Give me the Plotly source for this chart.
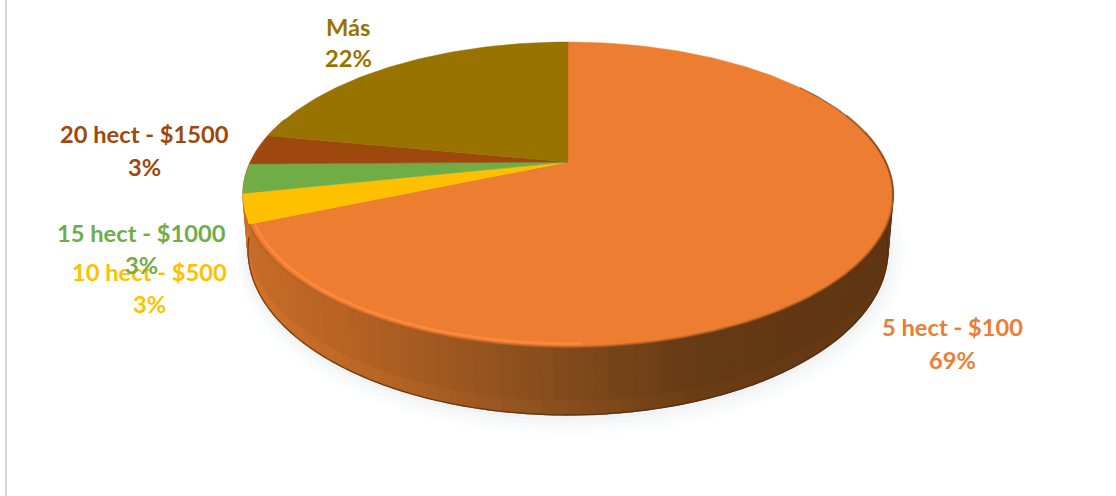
import numpy as np
import plotly.graph_objects as go

categories = ["5 hect - $100", "10 hect - $500", "15 hect - $1000", "20 hect - $1500", "Más"]
values = [68.6, 3.1, 3.1, 3.2, 22]
colors = ["#ED7D31", "#FFC000", "#70AD47", "#9E480E", "#997300"]
label_centres = [952, 149, 141, 144, 348]
label_rows = [(327, 360), (272, 304), (233, 265), (134, 167), (27, 58)]

W, H = 1116, 496
K = 0.2131


def project(theta, r=1.0, cx=568.0, cy=162.0, a=145.6, b=317.5):
    u = r * np.sin(theta)
    v = r * np.cos(theta)
    d = 1 + K * v
    return cx + b * u / d, cy - a * v / d


def lower(theta, r=1.0):
    return project(theta, r, cy=214.8, a=157.5, b=312.6)


def css(c):
    return "rgb(%d,%d,%d)" % tuple(int(round(x)) for x in c)


def poly(x, y, color, width=1.0):
    return go.Scatter(x=list(x), y=list(y), mode="lines", fill="toself", fillcolor=color,
                      line=dict(color=color, width=width), hoverinfo="skip", showlegend=False)


def stroke(x, y, color, width):
    return go.Scatter(x=list(x), y=list(y), mode="lines", line=dict(color=color, width=width, shape="spline"),
                      hoverinfo="skip", showlegend=False)


fig = go.Figure()
fractions = np.cumsum([0] + values) / sum(values)
angles = fractions * 2 * np.pi

# soft shadow under the pie
ring = np.linspace(0, 2 * np.pi, 181)
for grow, alpha in [(16, 0.018), (12, 0.022), (8, 0.028), (4, 0.035)]:
    x, y = lower(ring)
    fig.add_trace(poly(568 + (x - 568) * (1 + grow / 320) + grow * 0.2,
                       250 + (y - 250) * (1 + grow / 165) + grow * 0.25,
                       "rgba(120,130,150,%g)" % alpha, 0))

# side wall: left-to-right shading, then a slightly lighter lower band
stops_x = [0.0, 0.2, 0.45, 0.7, 1.0]
stops_c = [(200, 108, 42), (176, 96, 34), (136, 78, 30), (102, 58, 20), (94, 52, 18)]
cols = np.linspace(np.radians(78), np.radians(288), 110)
bands = [(0.0, 0.8, 1.0), (0.8, 1.0, 1.05)]
for r0, r1, gain in bands:
    for i in range(len(cols) - 1):
        t0, t1 = cols[i], cols[i + 1]
        xm, _ = project((t0 + t1) / 2)
        sx = float(np.clip((xm - 245) / 645, 0, 1))
        base = tuple(min(255, gain * float(np.interp(sx, stops_x, [c[k] for c in stops_c]))) for k in range(3))
        xa, ya = project(np.array([t0, t1]))
        xb, yb = lower(np.array([t0, t1]))
        px = [xa[0] + (xb[0] - xa[0]) * r0, xa[1] + (xb[1] - xa[1]) * r0,
              xa[1] + (xb[1] - xa[1]) * r1, xa[0] + (xb[0] - xa[0]) * r1]
        py = [ya[0] + (yb[0] - ya[0]) * r0, ya[1] + (yb[1] - ya[1]) * r0,
              ya[1] + (yb[1] - ya[1]) * r1, ya[0] + (yb[0] - ya[0]) * r1]
        fig.add_trace(poly(px, py, css(base), 1.5))

# dark lower edge
tb = np.linspace(np.radians(95), np.radians(262), 90)
xb, yb = lower(tb)
fig.add_trace(stroke(xb, yb, "rgba(80,40,10,0.7)", 1.2))

# top surface, one wedge per value
for i in range(len(values)):
    th = np.linspace(angles[i], angles[i + 1], max(3, int(values[i] * 4)))
    x, y = project(th)
    fig.add_trace(poly(np.r_[568, x, 568], np.r_[162, y, 162], colors[i], 0.5))

# bevel: blurred rim of the top surface
tf = np.linspace(np.radians(70), angles[1], 120)
xf, yf = project(tf, 1.0)
fig.add_trace(stroke(xf, yf, "rgba(170,90,30,0.5)", 2.5))
th = np.linspace(np.radians(178), angles[1] - 0.01, 60)
xh, yh = project(th, 0.985)
fig.add_trace(stroke(xh, yh, "rgba(255,140,62,0.85)", 2.5))
tr = np.linspace(np.radians(55), np.radians(105), 40)
xr, yr = project(tr, 1.0)
fig.add_trace(stroke(xr, yr, "rgba(110,65,30,0.6)", 1.3))

# labels
font_family = "Lato, 'Open Sans', sans-serif"
for i in range(len(categories)):
    for text, yc in zip([categories[i], "%d%%" % round(values[i])], label_rows[i]):
        fig.add_annotation(x=label_centres[i], y=yc, text="<b>%s</b>" % text, showarrow=False, xanchor="center",
                           yanchor="middle", font=dict(family=font_family, size=23.7, color=colors[i]))

fig.update_layout(
    width=W, height=H, margin=dict(l=0, r=0, t=0, b=0), paper_bgcolor="white", plot_bgcolor="white",
    xaxis=dict(range=[0, W], visible=False, fixedrange=True),
    yaxis=dict(range=[H, 0], visible=False, fixedrange=True),
    showlegend=False,
    shapes=[dict(type="line", x0=6, x1=6, y0=0, y1=H, line=dict(color="#D9D9D9", width=2))],
)
fig.write_html("out.html", config={"displayModeBar": False},
               post_script="document.body.style.margin='0';document.documentElement.style.overflow='hidden';")
